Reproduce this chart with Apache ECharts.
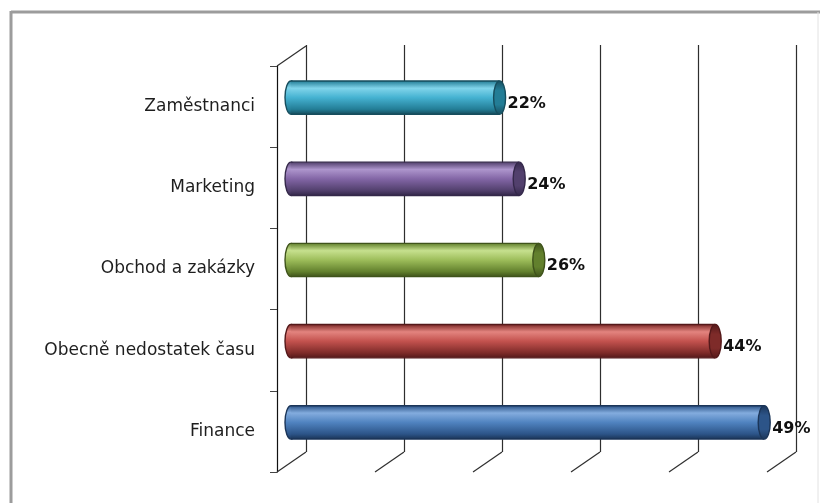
<!DOCTYPE html>
<html>
<head>
<meta charset="utf-8">
<script src="https://cdn.jsdelivr.net/npm/echarts@6/dist/echarts.min.js"></script>
<style>
html,body{margin:0;padding:0;background:#fff;}
#chart{width:820px;height:503px;}
</style>
</head>
<body>
<div id="chart"></div>
<script>
// ---- data ----
const categories = ['Zaměstnanci', 'Marketing', 'Obchod a zakázky', 'Obecně nedostatek času', 'Finance'];
const values = [22, 24, 26, 44, 49];
const valueLabels = ['22%', '24%', '26%', '44%', '49%'];
const xTicks = [0, 10, 20, 30, 40, 50];

// ---- styles ----
const palette = [
  {light: '#80d4ea', base: '#45b2d1', dark: '#237d96', edge: '#164d5d'},
  {light: '#ad95cc', base: '#8366a6', dark: '#52406d', edge: '#34284a'},
  {light: '#c6e08e', base: '#9dbd5a', dark: '#62802d', edge: '#3f531b'},
  {light: '#e3847f', base: '#c3524e', dark: '#7e2b29', edge: '#54191a'},
  {light: '#83acde', base: '#5083c0', dark: '#2c5488', edge: '#1b3558'}
];
const DX = 29, DY = -20;         // depth vector of the 3D frame
const BX = 12, BY = -9;          // bar plane shift
const FONT = 'DejaVu Sans';
const GRID_COLOR = '#2e2e2e';

function grad(c) {
  return new echarts.graphic.LinearGradient(0, 0, 0, 1, [
    {offset: 0, color: c.dark},
    {offset: 0.22, color: c.light},
    {offset: 0.5, color: c.base},
    {offset: 0.85, color: c.dark},
    {offset: 1, color: c.edge}
  ]);
}

const chart = echarts.init(document.getElementById('chart'), null, {renderer: 'canvas'});

const option = {
  backgroundColor: '#ffffff',
  animation: false,
  graphic: [
    {type: 'line', shape: {x1: 11, y1: 12, x2: 820, y2: 12}, style: {stroke: '#9c9c9c', lineWidth: 3}, silent: true},
    {type: 'line', shape: {x1: 11, y1: 11, x2: 11, y2: 503}, style: {stroke: '#9c9c9c', lineWidth: 3}, silent: true},
    {type: 'line', shape: {x1: 818, y1: 12, x2: 818, y2: 503}, style: {stroke: '#e2e2e2', lineWidth: 1}, silent: true}
  ],
  grid: [
    {left: 277, top: 66, width: 490, height: 406, containLabel: false},
    {left: 306, top: 45, width: 490, height: 407, containLabel: false}
  ],
  xAxis: [
    {
      gridIndex: 0, type: 'value', min: 0, max: 50, interval: 10,
      axisLine: {show: false}, axisTick: {show: false}, axisLabel: {show: false}, splitLine: {show: false}
    },
    {
      gridIndex: 1, type: 'value', min: 0, max: 50, interval: 10,
      axisLine: {show: false}, axisTick: {show: false}, axisLabel: {show: false},
      splitLine: {show: true, lineStyle: {color: GRID_COLOR, width: 1.2}}
    }
  ],
  yAxis: [
    {
      gridIndex: 0, type: 'category', data: categories, inverse: true, boundaryGap: true,
      axisLine: {show: true, lineStyle: {color: '#111', width: 1.2}},
      axisTick: {show: true, length: 7, inside: false, lineStyle: {color: '#444'}},
      axisLabel: {margin: 22, color: '#1e1e1e', fontFamily: FONT, fontSize: 17, padding: [6, 0, 0, 0]},
      splitLine: {show: false}
    },
    {
      gridIndex: 1, type: 'category', data: categories, inverse: true, show: false
    }
  ],
  series: [
    {
      type: 'custom',
      xAxisIndex: 0, yAxisIndex: 0,
      data: xTicks.map(v => [v, 0]),
      encode: {x: 0, y: 1},
      z: 1,
      silent: true,
      renderItem: function (params, api) {
        const v = api.value(0);
        const x = api.coord([v, 0])[0];
        const cs = params.coordSys;
        const bottom = cs.y + cs.height;
        const children = [
          {type: 'line', shape: {x1: x, y1: bottom, x2: x + DX, y2: bottom + DY}, style: {stroke: GRID_COLOR, lineWidth: 1.2}}
        ];
        if (v === 0) {
          children.push({type: 'line', shape: {x1: x, y1: cs.y, x2: x + DX, y2: cs.y + DY}, style: {stroke: GRID_COLOR, lineWidth: 1.2}});
        }
        return {type: 'group', children: children};
      }
    },
    {
      type: 'custom',
      xAxisIndex: 0, yAxisIndex: 0,
      data: values.map((v, i) => [v, i]),
      encode: {x: 0, y: 1},
      z: 5,
      renderItem: function (params, api) {
        const v = api.value(0);
        const i = api.value(1);
        const p0 = api.coord([0, i]);
        const p1 = api.coord([v, i]);
        const h = api.size([0, 1])[1] * 0.41;
        const x0 = p0[0] + BX + 2, x1 = p1[0] + BX - 5;
        const yc = p0[1] + BY;
        const rx = 6;
        const c = palette[i % palette.length];
        return {
          type: 'group',
          children: [
            {type: 'ellipse', shape: {cx: x0, cy: yc, rx: rx, ry: h / 2},
             style: {fill: grad(c), stroke: c.edge, lineWidth: 1.4}},
            {type: 'rect', shape: {x: x0, y: yc - h / 2, width: x1 - x0, height: h},
             style: {fill: grad(c)}},
            {type: 'line', shape: {x1: x0, y1: yc - h / 2, x2: x1, y2: yc - h / 2},
             style: {stroke: c.edge, lineWidth: 1.4}},
            {type: 'line', shape: {x1: x0, y1: yc + h / 2, x2: x1, y2: yc + h / 2},
             style: {stroke: c.edge, lineWidth: 1.4}},
            {type: 'ellipse', shape: {cx: x1, cy: yc, rx: rx, ry: h / 2},
             style: {fill: new echarts.graphic.LinearGradient(0, 0, 0, 1, [
               {offset: 0, color: c.edge}, {offset: 0.3, color: c.dark}, {offset: 0.7, color: c.dark}, {offset: 1, color: c.edge}
             ]), stroke: c.edge, lineWidth: 1.4}},
            {type: 'text', style: {
              text: valueLabels[i], x: x1 + rx + 2, y: yc + 6,
              verticalAlign: 'middle', align: 'left',
              fill: '#111', font: 'bold 16px "' + FONT + '"'
            }}
          ]
        };
      }
    }
  ]
};
chart.setOption(option);
</script>
</body>
</html>
